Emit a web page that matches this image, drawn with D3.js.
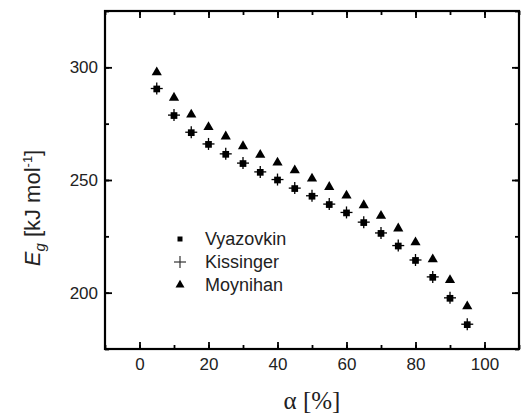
<!DOCTYPE html>
<html>
<head>
<meta charset="utf-8">
<script src="https://cdn.jsdelivr.net/npm/d3@7"></script>
<style>
  body { margin: 0; background: #fff; }
  svg { display: block; }
  .axis text { font-family: "Liberation Sans", Arial, sans-serif; font-size: 17px; fill: #222; }
</style>
</head>
<body>
<div id="chart"></div>
<script>
// conversion values (%)
var alpha = [5, 10, 15, 20, 25, 30, 35, 40, 45, 50, 55, 60, 65, 70, 75, 80, 85, 90, 95];

// activation energy, kJ/mol
var vyazovkin = [290.4, 278.6, 271.0, 265.8, 261.4, 257.3, 253.4, 250.0, 246.2, 242.8, 239.1, 235.4, 231.1, 226.3, 220.7, 214.3, 206.8, 197.5, 185.8];
var kissinger = [290.6, 278.8, 271.2, 266.0, 261.6, 257.5, 253.6, 250.2, 246.4, 243.0, 239.3, 235.6, 231.3, 226.5, 220.9, 214.5, 207.0, 197.7, 186.0];
var moynihan  = [297.8, 286.5, 279.0, 273.5, 269.3, 265.0, 261.2, 257.7, 254.3, 250.6, 246.9, 243.1, 238.8, 234.1, 228.5, 222.3, 214.8, 205.6, 193.9];

var xTicks = [0, 20, 40, 60, 80, 100];
var yTicks = [200, 250, 300];
var seriesNames = ["Vyazovkin", "Kissinger", "Moynihan"];

function main() {
    var margin = { top: 11, right: 2, bottom: 68, left: 105 },
        width = 521 - margin.left - margin.right,
        height = 417 - margin.top - margin.bottom;

    var svg = d3.select("#chart")
        .append("svg")
        .attr("width", 521)
        .attr("height", 417)
        .append("g")
        .attr("transform", "translate(" + margin.left + "," + margin.top + ")");

    var x = d3.scaleLinear().domain([-10, 110]).range([0, width]);
    var y = d3.scaleLinear().domain([175, 325]).range([height, 0]);

    var xMinor = d3.range(-10, 111, 10);
    var yMinor = d3.range(175, 326, 25);

    // axes with inward ticks, major labelled ones and minor ones
    function styleAxis(g) {
        g.select(".domain").remove();
        g.selectAll("line").attr("stroke", "#000").attr("stroke-width", 1.8);
    }

    svg.append("g").attr("class", "axis")
        .attr("transform", "translate(0," + height + ")")
        .call(d3.axisBottom(x).tickValues(xMinor).tickSize(-4).tickFormat(""))
        .call(styleAxis);
    svg.append("g").attr("class", "axis")
        .attr("transform", "translate(0," + height + ")")
        .call(d3.axisBottom(x).tickValues(xTicks).tickSize(-7).tickPadding(9))
        .call(styleAxis);
    svg.append("g").attr("class", "axis")
        .call(d3.axisTop(x).tickValues(xMinor).tickSize(-4).tickFormat(""))
        .call(styleAxis);
    svg.append("g").attr("class", "axis")
        .call(d3.axisTop(x).tickValues(xTicks).tickSize(-7).tickFormat(""))
        .call(styleAxis);

    svg.append("g").attr("class", "axis")
        .call(d3.axisLeft(y).tickValues(yMinor).tickSize(-4).tickFormat(""))
        .call(styleAxis);
    svg.append("g").attr("class", "axis")
        .call(d3.axisLeft(y).tickValues(yTicks).tickSize(-7).tickPadding(7))
        .call(styleAxis);
    svg.append("g").attr("class", "axis")
        .attr("transform", "translate(" + width + ",0)")
        .call(d3.axisRight(y).tickValues(yMinor).tickSize(-4).tickFormat(""))
        .call(styleAxis);
    svg.append("g").attr("class", "axis")
        .attr("transform", "translate(" + width + ",0)")
        .call(d3.axisRight(y).tickValues(yTicks).tickSize(-7).tickFormat(""))
        .call(styleAxis);

    // frame
    svg.append("rect")
        .attr("width", width).attr("height", height)
        .attr("fill", "none").attr("stroke", "#000").attr("stroke-width", 2.2);

    var sq = d3.symbol().type(d3.symbolSquare).size(45);
    var tri = d3.symbol().type(d3.symbolTriangle).size(45);

    // Moynihan triangles
    svg.append("g").selectAll("path")
        .data(alpha.map(function (a, i) { return { a: a, e: moynihan[i] }; }))
        .enter().append("path")
        .attr("d", tri)
        .attr("transform", function (d) { return "translate(" + x(d.a) + "," + y(d.e) + ")"; })
        .attr("fill", "#000");

    // Vyazovkin squares
    svg.append("g").selectAll("path")
        .data(alpha.map(function (a, i) { return { a: a, e: vyazovkin[i] }; }))
        .enter().append("path")
        .attr("d", sq)
        .attr("transform", function (d) { return "translate(" + x(d.a) + "," + y(d.e) + ")"; })
        .attr("fill", "#000");

    // Kissinger crosses
    var plus = svg.append("g").selectAll("g")
        .data(alpha.map(function (a, i) { return { a: a, e: kissinger[i] }; }))
        .enter().append("g")
        .attr("transform", function (d) { return "translate(" + x(d.a) + "," + y(d.e) + ")"; });
    plus.append("line").attr("x1", -6).attr("x2", 6).attr("stroke", "#000").attr("stroke-width", 1.3);
    plus.append("line").attr("y1", -6).attr("y2", 6).attr("stroke", "#000").attr("stroke-width", 1.3);

    // legend
    var legend = svg.append("g").attr("transform", "translate(" + (180 - margin.left) + "," + (239 - margin.top) + ")");
    seriesNames.forEach(function (name, i) {
        var row = legend.append("g").attr("transform", "translate(0," + (i * 23) + ")");
        if (i === 0) {
            row.append("path").attr("d", d3.symbol().type(d3.symbolSquare).size(25)).attr("fill", "#000");
        } else if (i === 1) {
            row.append("line").attr("x1", -6).attr("x2", 6).attr("stroke", "#333").attr("stroke-width", 1.2);
            row.append("line").attr("y1", -6).attr("y2", 6).attr("stroke", "#333").attr("stroke-width", 1.2);
        } else {
            row.append("path").attr("d", d3.symbol().type(d3.symbolTriangle).size(35)).attr("fill", "#000");
        }
        row.append("text")
            .attr("x", 25).attr("y", 6)
            .style("font-family", "Liberation Sans, Arial, sans-serif")
            .style("font-size", "18px")
            .attr("fill", "#222")
            .text(name);
    });

    // axis titles
    svg.append("text")
        .attr("x", width / 2).attr("y", height + 60)
        .attr("text-anchor", "middle")
        .style("font-family", "Liberation Serif, Times New Roman, serif")
        .style("font-size", "25px")
        .attr("fill", "#222")
        .text("\u03b1 [%]");

    var yt = svg.append("text")
        .attr("transform", "translate(" + (40 - margin.left) + "," + (208 - margin.top) + ") rotate(-90)")
        .attr("text-anchor", "middle")
        .style("font-family", "Liberation Sans, Arial, sans-serif")
        .style("font-size", "22px")
        .attr("fill", "#222");
    yt.append("tspan").style("font-style", "italic").text("E");
    yt.append("tspan").style("font-style", "italic").style("font-size", "15px").attr("dy", 5).text("g");
    yt.append("tspan").attr("dy", -5).text(" [kJ mol");
    yt.append("tspan").style("font-size", "13px").attr("dy", -8).text("-1");
    yt.append("tspan").attr("dy", 8).text("]");
}
window.addEventListener('load', main);
</script>
</body>
</html>
